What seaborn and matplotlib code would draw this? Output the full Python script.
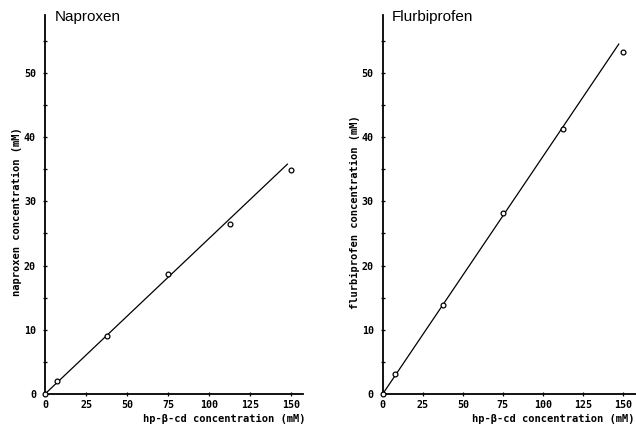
import matplotlib
matplotlib.use('Agg')
import matplotlib.pyplot as plt
import seaborn as sns
from matplotlib.ticker import MultipleLocator

sns.set_style('ticks')
plt.rcParams.update({'text.color': 'black', 'axes.labelcolor': 'black',
                     'xtick.color': 'black', 'ytick.color': 'black'})

# hp-beta-cd concentration (mM) and solubilised drug (mM)
hpcd = [0, 7.5, 37.5, 75, 112.5, 150]
naproxen = [0, 2.1, 9.1, 18.7, 26.5, 34.9]
flurbiprofen = [0, 3.1, 13.8, 28.2, 41.3, 53.2]

# fitted straight lines (start / end as drawn)
nap_fit_x = [0, 147.6]
nap_fit_y = [0, 35.8]
flu_fit_x = [0, 147.5]
flu_fit_y = [0, 54.5]

x_ticks = [0, 25, 50, 75, 100, 125, 150]
y_ticks = [0, 10, 20, 30, 40, 50]

mono = 'DejaVu Sans Mono'


def draw_panel(ax, y, fit_x, fit_y, title, ylabel, xmax, xlabel_x):
    sns.lineplot(x=fit_x, y=fit_y, ax=ax, color='black', linewidth=0.9)
    sns.scatterplot(x=hpcd, y=y, ax=ax, marker='o', s=12, color='white',
                    edgecolor='black', linewidth=0.9, zorder=3, clip_on=False)

    ax.set_xlim(0, xmax)
    ax.set_ylim(0, 59)
    ax.set_xticks(x_ticks)
    ax.set_yticks(y_ticks)
    ax.yaxis.set_minor_locator(MultipleLocator(5))
    ax.tick_params(which='both', direction='inout', length=3, width=0.9, color='black')
    ax.tick_params(axis='x', pad=2.5)
    ax.tick_params(axis='y', pad=5)
    for lab in ax.get_xticklabels() + ax.get_yticklabels():
        lab.set_family(mono)
        lab.set_weight('bold')
        lab.set_fontsize(7.2)

    sns.despine(ax=ax)
    for side in ['left', 'bottom']:
        ax.spines[side].set_linewidth(1.3)
        ax.spines[side].set_color('black')

    ax.set_xlabel('hp-β-cd concentration (mM)', family=mono, weight='bold',
                  fontsize=7.5, loc='right')
    ax.xaxis.set_label_coords(xlabel_x, -0.052)
    ax.set_ylabel(ylabel, family=mono, weight='bold', fontsize=7.5)
    ax.yaxis.set_label_coords(-0.09, 0.48)

    ax.text(0.037, 1.014, title, transform=ax.transAxes, ha='left', va='top',
            family='Liberation Sans', fontsize=11, color='black')


fig = plt.figure(figsize=(6.36, 4.29), dpi=100)
ax1 = fig.add_axes([45 / 636, 1 - 394 / 429, 258 / 636, 379 / 429])
ax2 = fig.add_axes([382.7 / 636, 1 - 394 / 429, 253 / 636, 379 / 429])

draw_panel(ax1, naproxen, nap_fit_x, nap_fit_y, 'Naproxen',
           'naproxen concentration (mM)', 157, 1.01)
draw_panel(ax2, flurbiprofen, flu_fit_x, flu_fit_y, 'Flurbiprofen',
           'flurbiprofen concentration (mM)', 158, 0.995)

plt.savefig('out.png', dpi=100)
plt.close()
